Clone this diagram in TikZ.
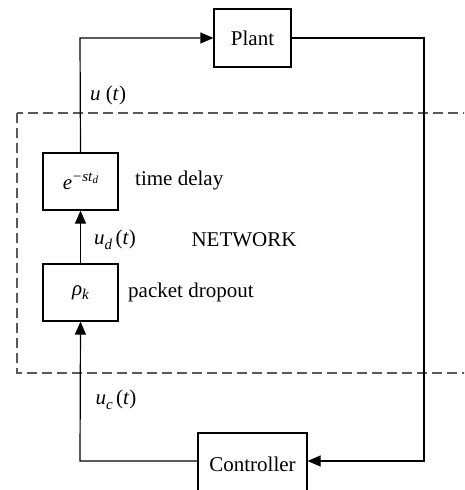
\documentclass[tikz,border=0pt]{standalone}
\usepackage{fontspec}
\setmainfont{Liberation Serif}
\usetikzlibrary{arrows.meta}
\begin{document}
\begin{tikzpicture}[x=1pt,y=-1pt,
  blk/.style={draw, line width=1.2pt, minimum width=#1, inner sep=0pt, font=\fontsize{21}{25}\selectfont},
  blk/.default={76pt},
  lbl/.style={font=\fontsize{21}{25}\selectfont, inner sep=0pt},
  conn/.style={line width=1.2pt, draw=black},
  tip/.style={-{Triangle[length=13pt,width=11pt]}}]
\clip (0,0) rectangle (464,490);
\useasboundingbox (0,0) rectangle (464,490);
% network region
\draw[dashed, dash pattern=on 10pt off 5pt, line width=1.1pt, draw=black!65] (17,113) rectangle (480,373);
% blocks
\node[blk=77pt, minimum height=58pt] (plant) at (252.5,38) {Plant};
\node[blk=75pt, minimum height=57pt] (delay) at (80.5,181.5) {\textit{e}\raisebox{0.9ex}{\fontsize{15}{17}\selectfont\textit{−st}\raisebox{-0.35ex}{\fontsize{11}{13}\selectfont\textit{d}}}};
\node[blk=75pt, minimum height=57pt] (drop) at (80.5,292.5) {\textit{ρ}\raisebox{-0.5ex}{\fontsize{15}{17}\selectfont\textit{k}}};
\node[blk=109pt, minimum height=62pt] (ctrl) at (252.5,464) {Controller};
% labels
\node[lbl] (lu) at (108,95) {\textit{u} (\textit{t})};
\node[lbl] (lud) at (115,240) {\textit{u}\raisebox{-0.5ex}{\fontsize{15}{17}\selectfont\textit{d}}\,(\textit{t})};
\node[lbl] (luc) at (116,400) {\textit{u}\raisebox{-0.5ex}{\fontsize{15}{17}\selectfont\textit{c}}\,(\textit{t})};
\node[lbl, anchor=west] (ltd) at (135,180) {time delay};
\node[lbl, anchor=west] (lpd) at (128,292) {packet dropout};
\node[lbl] (lnet) at (244,240) {NETWORK};
% connectors
\coordinate (tl) at (80,38);
\coordinate (tr) at (424,38);
\coordinate (br) at (424,461);
\coordinate (bl) at (80,461);
\draw[conn, tip] (delay.north) -- (tl) -- (plant.west);
\draw[conn, tip] (plant.east) -- (tr) -- (br) -- (ctrl.east |- br);
\draw[conn, tip] (ctrl.west |- bl) -- (bl) -- (drop.south);
\draw[conn, tip] (drop.north) -- (delay.south);
\end{tikzpicture}
\end{document}
